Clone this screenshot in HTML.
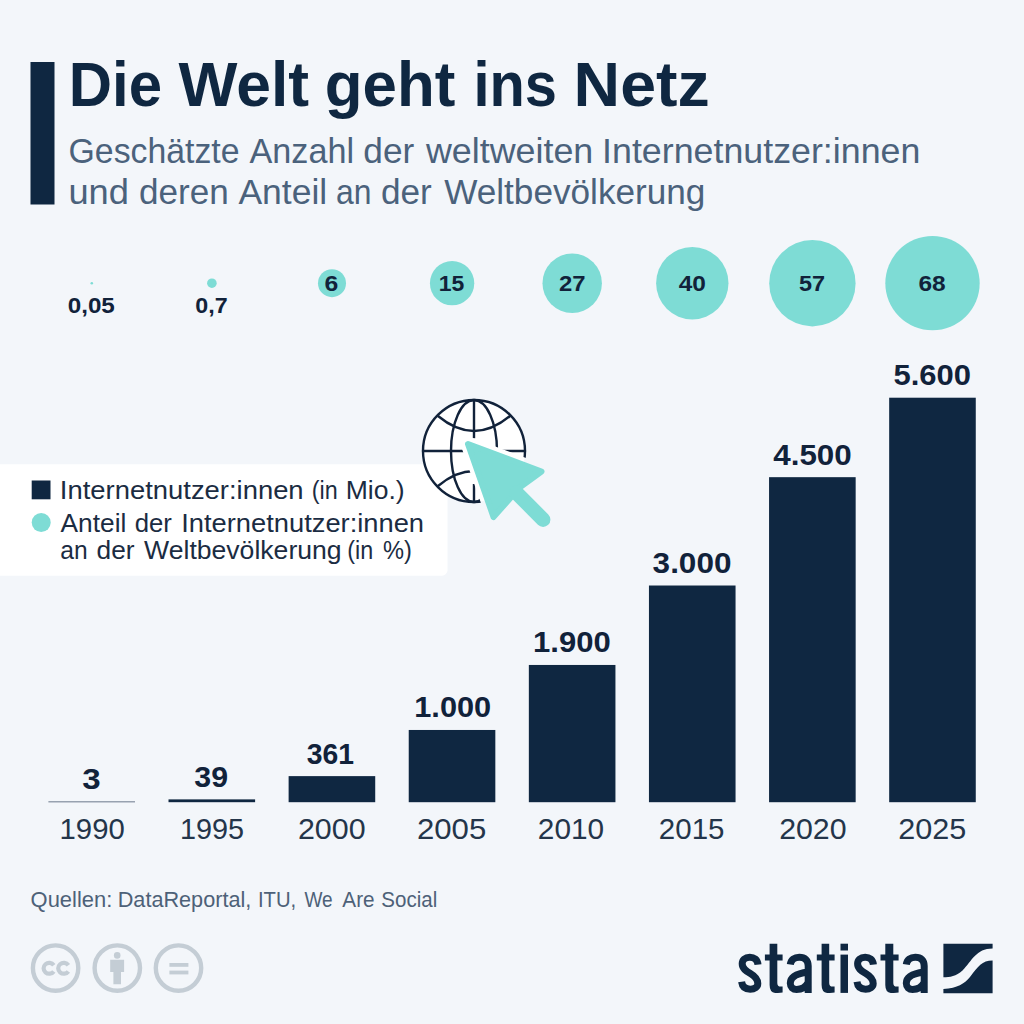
<!DOCTYPE html>
<html><head><meta charset="utf-8"><title>Die Welt geht ins Netz</title>
<style>
html,body{margin:0;padding:0;background:#f3f6fa;}
svg{display:block;font-family:"Liberation Sans",sans-serif;}
</style></head><body>
<svg width="1024" height="1024" viewBox="0 0 1024 1024">
<rect width="1024" height="1024" fill="#f3f6fa"/>
<rect x="30.5" y="62" width="24" height="142.5" fill="#0f2741"/>
<circle cx="91.80" cy="283.2" r="1.28" fill="#7edcd5"/>
<circle cx="211.90" cy="283.2" r="4.79" fill="#7edcd5"/>
<circle cx="332.00" cy="283.2" r="14.01" fill="#7edcd5"/>
<circle cx="452.10" cy="283.2" r="22.15" fill="#7edcd5"/>
<circle cx="572.20" cy="283.2" r="29.72" fill="#7edcd5"/>
<circle cx="692.30" cy="283.2" r="36.18" fill="#7edcd5"/>
<circle cx="812.40" cy="283.2" r="43.19" fill="#7edcd5"/>
<circle cx="932.50" cy="283.2" r="47.17" fill="#7edcd5"/>
<rect x="48.40" y="801.60" width="86.6" height="0.60" fill="#0f2741"/>
<rect x="168.51" y="799.38" width="86.6" height="2.82" fill="#0f2741"/>
<rect x="288.62" y="776.12" width="86.6" height="26.08" fill="#0f2741"/>
<rect x="408.73" y="729.97" width="86.6" height="72.23" fill="#0f2741"/>
<rect x="528.84" y="664.96" width="86.6" height="137.24" fill="#0f2741"/>
<rect x="648.95" y="585.51" width="86.6" height="216.69" fill="#0f2741"/>
<rect x="769.06" y="477.17" width="86.6" height="325.04" fill="#0f2741"/>
<rect x="889.17" y="397.71" width="86.6" height="404.49" fill="#0f2741"/>
<rect x="-20" y="464.2" width="467.5" height="111.5" rx="5.5" fill="#ffffff"/>
<rect x="31.7" y="480.5" width="18.8" height="18.8" fill="#0f2741"/>
<circle cx="41.2" cy="522.5" r="9.5" fill="#7edcd5"/>
<!-- globe -->
<defs>
<mask id="gm" maskUnits="userSpaceOnUse" x="400" y="380" width="180" height="160">
<rect x="400" y="380" width="180" height="160" fill="#fff"/>
<g fill="#000" stroke="#000" stroke-width="14.5" stroke-linejoin="round" stroke-linecap="round">
<path d="M468 444 L541.5 471.5 L519.9 487.3 L512.4 495.8 L493.5 517 Z"/>
<path d="M516.5 492.8 L543.1 519.6" stroke-width="23.5"/>
</g>
</mask>
</defs>
<circle cx="474" cy="451" r="51" fill="#ffffff"/>
<g mask="url(#gm)" fill="none" stroke="#11223a" stroke-width="2.4" stroke-linecap="round">
<circle cx="474" cy="451" r="51"/>
<ellipse cx="474" cy="451" rx="23" ry="51"/>
<path d="M474 400 V438.2 M474 484 V502" stroke-linecap="butt"/>
<path d="M423 451 H525"/>
<path d="M438 416 Q474 446 510 416"/>
<path d="M438 486 Q474 456 510 486"/>
</g>
<g fill="#7edcd5" stroke="#7edcd5" stroke-linejoin="round" stroke-linecap="round">
<path d="M468 444 L541.5 471.5 L519.9 487.3 L512.4 495.8 L493.5 517 Z" stroke-width="6"/>
<path d="M516.5 492.8 L543.1 519.6" stroke-width="14.6" fill="none"/>
</g>

<!-- cc icons -->
<g fill="none" stroke="#c4cdd5" stroke-width="4.4">
<circle cx="55.6" cy="968.1" r="22.7"/>
<circle cx="117.3" cy="968.1" r="22.7"/>
<circle cx="178.5" cy="968.1" r="22.7"/>
<path d="M53.79 965.20 A5.6 5.4 0 1 0 53.79 971.40" stroke-width="4.2"/>
<path d="M68.39 965.20 A5.6 5.4 0 1 0 68.39 971.40" stroke-width="4.2"/>
</g>
<g fill="#c4cdd5">
<circle cx="117.2" cy="955.4" r="3.3"/>
<path d="M110.2 959.7 H124.1 V972 H121 V984.3 H113.4 V972 H110.2 Z"/>
<rect x="169.4" y="963.0" width="19" height="3.8"/>
<rect x="169.4" y="970.6" width="19" height="3.8"/>
</g>
<!-- statista icon -->
<g fill="#0f2741">
<path d="M943.4 943.7 H992.6 V948.5 C976 948.5 972 961 962.5 970.5 C956 976.5 950 977.2 943.4 977.2 Z"/>
<path d="M992.6 993.2 H943.4 V989 C958 988 964 984 970 977 C978 966.5 982 960.4 992.6 960.4 Z"/>
</g>
<!-- statista wordmark: t,i -->
<g fill="#0f2741">
<path d="M769.6 943.7 H777.3 V954.6 H782.6 V960.6 H777.3 V982.9 Q777.3 986.5 780.6999999999999 986.5 H782.6 V992.5 Q779.95 993.1999999999999 775.1 992.9 Q769.6 992.3 769.6 984.9 V960.6 H764.9 V954.6 H769.6 Z"/>
<path d="M821.6 943.7 H829.2 V954.6 H834.6 V960.6 H829.2 V982.9 Q829.2 986.5 832.6 986.5 H834.6 V992.5 Q831.9000000000001 993.1999999999999 827.1 992.9 Q821.6 992.3 821.6 984.9 V960.6 H816.8 V954.6 H821.6 Z"/>
<path d="M885.3 943.7 H893.3 V954.6 H898.6 V960.6 H893.3 V982.9 Q893.3 986.5 896.6999999999999 986.5 H898.6 V992.5 Q895.95 993.1999999999999 890.8 992.9 Q885.3 992.3 885.3 984.9 V960.6 H880.5 V954.6 H885.3 Z"/>
<rect x="840.5" y="943.7" width="7.5" height="6.8"/>
<rect x="840.5" y="954.6" width="7.5" height="38.3"/>
</g>
<!-- statista wordmark: s,a -->
<g fill="none" stroke="#0f2741" stroke-width="7">
<path d="M758 964.6 C757.5 959.6 754 957.2 749.8 957.2 C745 957.2 742.2 960 742.2 963.8 C742.2 968.5 746 971 750.4 973.6 C755 976.3 757.8 979 757.8 983.6 C757.8 987 754.6 989.2 750.2 989.2 C745.2 989.2 742.2 986.5 741.6 981.8"/>
<path d="M758 964.6 C757.5 959.6 754 957.2 749.8 957.2 C745 957.2 742.2 960 742.2 963.8 C742.2 968.5 746 971 750.4 973.6 C755 976.3 757.8 979 757.8 983.6 C757.8 987 754.6 989.2 750.2 989.2 C745.2 989.2 742.2 986.5 741.6 981.8" transform="translate(115.4 0)"/>
<path d="M790.3 964.6 C791 959.6 794.5 957.2 799.3 957.2 C805 957.2 808.2 960.2 808.2 966 V992.9 M808.2 972 C800 973 790.3 975 790.3 983.3 C790.3 987.2 793 989.5 796.6 989.5 C801.5 989.5 806 986.5 808.2 982.5"/>
<path d="M790.3 964.6 C791 959.6 794.5 957.2 799.3 957.2 C805 957.2 808.2 960.2 808.2 966 V992.9 M808.2 972 C800 973 790.3 975 790.3 983.3 C790.3 987.2 793 989.5 796.6 989.5 C801.5 989.5 806 986.5 808.2 982.5" transform="translate(116 0)"/>
</g>

<text transform="translate(68.75 105.50) scale(0.9637 1)" font-weight="700" font-size="62.21" fill="#0f2741">Die</text>
<text transform="translate(178.50 105.50) scale(1.0038 1)" font-weight="700" font-size="62.21" fill="#0f2741">Welt</text>
<text transform="translate(324.71 105.50) scale(0.9946 1)" font-weight="700" font-size="62.21" fill="#0f2741">geht</text>
<text transform="translate(473.48 105.50) scale(0.9289 1)" font-weight="700" font-size="62.21" fill="#0f2741">ins</text>
<text transform="translate(573.55 105.50) scale(1.0368 1)" font-weight="700" font-size="62.21" fill="#0f2741">Netz</text>
<text transform="translate(68.57 163.00) scale(0.9649 1)" font-weight="400" font-size="35.03" fill="#4b627c">Geschätzte</text>
<text transform="translate(249.50 163.00) scale(0.9762 1)" font-weight="400" font-size="35.03" fill="#4b627c">Anzahl</text>
<text transform="translate(363.29 163.00) scale(1.0061 1)" font-weight="400" font-size="35.03" fill="#4b627c">der</text>
<text transform="translate(425.90 163.00) scale(1.0236 1)" font-weight="400" font-size="35.03" fill="#4b627c">weltweiten</text>
<text transform="translate(602.03 163.00) scale(1.0219 1)" font-weight="400" font-size="35.03" fill="#4b627c">Internetnutzer:innen</text>
<text transform="translate(68.43 203.75) scale(1.0352 1)" font-weight="400" font-size="35.03" fill="#4b627c">und</text>
<text transform="translate(139.00 203.75) scale(1.0012 1)" font-weight="400" font-size="35.03" fill="#4b627c">deren</text>
<text transform="translate(238.40 203.75) scale(1.0141 1)" font-weight="400" font-size="35.03" fill="#4b627c">Anteil</text>
<text transform="translate(335.99 203.75) scale(0.9111 1)" font-weight="400" font-size="35.03" fill="#4b627c">an</text>
<text transform="translate(381.00 203.75) scale(1.0041 1)" font-weight="400" font-size="35.03" fill="#4b627c">der</text>
<text transform="translate(444.20 203.75) scale(1.0035 1)" font-weight="400" font-size="35.03" fill="#4b627c">Weltbevölkerung</text>
<text transform="translate(67.69 312.60) scale(1.0581 1)" font-weight="700" font-size="22.9" fill="#11223a">0,05</text>
<text transform="translate(195.23 312.60) scale(1.0167 1)" font-weight="700" font-size="22.9" fill="#11223a">0,7</text>
<text transform="translate(324.52 291.10) scale(1.0818 1)" font-weight="700" font-size="22.9" fill="#11223a">6</text>
<text transform="translate(438.70 291.10) scale(1.0021 1)" font-weight="700" font-size="22.9" fill="#11223a">15</text>
<text transform="translate(558.96 291.10) scale(1.0417 1)" font-weight="700" font-size="22.9" fill="#11223a">27</text>
<text transform="translate(678.70 291.10) scale(1.0680 1)" font-weight="700" font-size="22.9" fill="#11223a">40</text>
<text transform="translate(798.98 291.10) scale(1.0250 1)" font-weight="700" font-size="22.9" fill="#11223a">57</text>
<text transform="translate(918.43 291.10) scale(1.0708 1)" font-weight="700" font-size="22.9" fill="#11223a">68</text>
<text transform="translate(82.26 789.20) scale(1.1357 1)" font-weight="700" font-size="29.14" fill="#11223a">3</text>
<text transform="translate(194.26 786.80) scale(1.0419 1)" font-weight="700" font-size="29.14" fill="#11223a">39</text>
<text transform="translate(306.83 764.00) scale(0.9723 1)" font-weight="700" font-size="29.14" fill="#11223a">361</text>
<text transform="translate(414.29 717.30) scale(1.0543 1)" font-weight="700" font-size="29.14" fill="#11223a">1.000</text>
<text transform="translate(533.07 652.40) scale(1.0657 1)" font-weight="700" font-size="29.14" fill="#11223a">1.900</text>
<text transform="translate(652.62 572.90) scale(1.0803 1)" font-weight="700" font-size="29.14" fill="#11223a">3.000</text>
<text transform="translate(773.25 464.50) scale(1.0764 1)" font-weight="700" font-size="29.14" fill="#11223a">4.500</text>
<text transform="translate(893.44 385.00) scale(1.0634 1)" font-weight="700" font-size="29.14" fill="#11223a">5.600</text>
<text transform="translate(59.56 838.50) scale(1.0213 1)" font-weight="400" font-size="28.71" fill="#24354a">1990</text>
<text transform="translate(179.89 838.50) scale(1.0033 1)" font-weight="400" font-size="28.71" fill="#24354a">1995</text>
<text transform="translate(297.94 838.50) scale(1.0597 1)" font-weight="400" font-size="28.71" fill="#24354a">2000</text>
<text transform="translate(416.91 838.50) scale(1.0855 1)" font-weight="400" font-size="28.71" fill="#24354a">2005</text>
<text transform="translate(537.86 838.50) scale(1.0387 1)" font-weight="400" font-size="28.71" fill="#24354a">2010</text>
<text transform="translate(658.87 838.50) scale(1.0274 1)" font-weight="400" font-size="28.71" fill="#24354a">2015</text>
<text transform="translate(779.14 838.50) scale(1.0565 1)" font-weight="400" font-size="28.71" fill="#24354a">2020</text>
<text transform="translate(898.23 838.50) scale(1.0661 1)" font-weight="400" font-size="28.71" fill="#24354a">2025</text>
<text transform="translate(59.86 499.25) scale(1.0719 1)" font-weight="400" font-size="25.58" fill="#1b2c42">Internetnutzer:innen</text>
<text transform="translate(311.78 499.25) scale(0.9120 1)" font-weight="400" font-size="25.58" fill="#1b2c42">(in</text>
<text transform="translate(345.72 499.25) scale(1.0377 1)" font-weight="400" font-size="25.58" fill="#1b2c42">Mio.)</text>
<text transform="translate(60.60 531.75) scale(1.0274 1)" font-weight="400" font-size="25.58" fill="#1b2c42">Anteil</text>
<text transform="translate(134.69 531.75) scale(1.0056 1)" font-weight="400" font-size="25.58" fill="#1b2c42">der</text>
<text transform="translate(181.16 531.75) scale(1.0679 1)" font-weight="400" font-size="25.58" fill="#1b2c42">Internetnutzer:innen</text>
<text transform="translate(60.24 558.75) scale(0.9615 1)" font-weight="400" font-size="25.58" fill="#1b2c42">an</text>
<text transform="translate(96.57 558.75) scale(1.0278 1)" font-weight="400" font-size="25.58" fill="#1b2c42">der</text>
<text transform="translate(144.10 558.75) scale(1.0394 1)" font-weight="400" font-size="25.58" fill="#1b2c42">Weltbevölkerung</text>
<text transform="translate(347.18 558.75) scale(0.9120 1)" font-weight="400" font-size="25.58" fill="#1b2c42">(in</text>
<text transform="translate(383.08 558.75) scale(0.9241 1)" font-weight="400" font-size="25.58" fill="#1b2c42">%)</text>
<text transform="translate(30.59 906.50) scale(1.0063 1)" font-weight="400" font-size="21.8" fill="#4d6178">Quellen:</text>
<text transform="translate(117.71 906.50) scale(0.9939 1)" font-weight="400" font-size="21.8" fill="#4d6178">DataReportal,</text>
<text transform="translate(257.94 906.50) scale(0.9297 1)" font-weight="400" font-size="21.8" fill="#4d6178">ITU,</text>
<text transform="translate(304.50 906.50) scale(0.8719 1)" font-weight="400" font-size="21.8" fill="#4d6178">We</text>
<text transform="translate(342.30 906.50) scale(0.9515 1)" font-weight="400" font-size="21.8" fill="#4d6178">Are</text>
<text transform="translate(381.36 906.50) scale(0.9421 1)" font-weight="400" font-size="21.8" fill="#4d6178">Social</text>
</svg>
</body></html>
